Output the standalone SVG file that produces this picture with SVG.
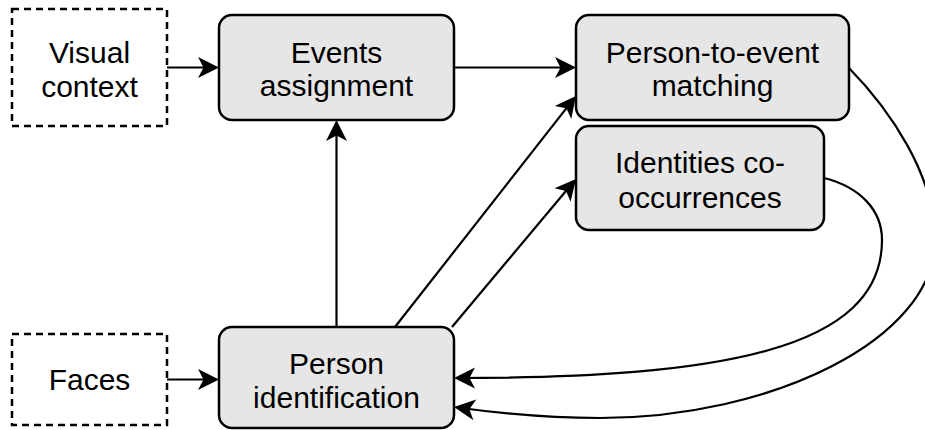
<svg xmlns="http://www.w3.org/2000/svg" width="925" height="430" viewBox="0 0 925 430">
  <style>
    .box { fill: #e6e6e6; stroke: #000; stroke-width: 2.5; }
    .input { fill: #fff; stroke: #000; stroke-width: 2.5; stroke-dasharray: 7 5; }
    .label { font-family: "Liberation Sans", Arial, sans-serif; font-size: 30px; fill: #000; text-anchor: middle; }
    .edge { fill: none; stroke: #000; stroke-width: 2.2; marker-end: url(#arrow); }
  </style>
  <defs>
    <marker id="arrow" markerUnits="userSpaceOnUse" markerWidth="30" markerHeight="26" viewBox="-22 -13 30 26" refX="0" refY="0" orient="auto" overflow="visible">
      <path d="M3,0 L-18,-10.5 L-12.5,0 L-18,10.5 Z" fill="#000"/>
    </marker>
  </defs>
  <rect width="925" height="430" fill="#fff"/>

  <g id="visual-context">
    <rect class="input" x="12" y="9" width="155" height="117"/>
    <text class="label" x="89.5" y="63">Visual</text>
    <text class="label" x="89.5" y="97">context</text>
  </g>

  <g id="faces">
    <rect class="input" x="12" y="334" width="155" height="91"/>
    <text class="label" x="89.5" y="390">Faces</text>
  </g>

  <g id="events-assignment">
    <rect class="box" x="219" y="15" width="235" height="105" rx="13" ry="13"/>
    <text class="label" x="336.5" y="63">Events</text>
    <text class="label" x="336.5" y="96">assignment</text>
  </g>

  <g id="person-to-event-matching">
    <rect class="box" x="576" y="15" width="273" height="105" rx="13" ry="13"/>
    <text class="label" x="712.5" y="63">Person-to-event</text>
    <text class="label" x="712.5" y="96">matching</text>
  </g>

  <g id="identities-co-occurrences">
    <rect class="box" x="576" y="126" width="248" height="104" rx="13" ry="13"/>
    <text class="label" x="700" y="173">Identities co-</text>
    <text class="label" x="700" y="208">occurrences</text>
  </g>

  <g id="person-identification">
    <rect class="box" x="219" y="327" width="235" height="101" rx="13" ry="13"/>
    <text class="label" x="336.5" y="374">Person</text>
    <text class="label" x="336.5" y="408">identification</text>
  </g>

  <g id="connectors">
    <path class="edge" d="M167,67.5 L216,67.5"/>
    <path class="edge" d="M454,67.5 L573,67.5"/>
    <path class="edge" d="M167,379.5 L216,379.5"/>
    <path class="edge" d="M336.5,327 L336.5,123"/>
    <path class="edge" d="M395,327 L574.1,98.4"/>
    <path class="edge" d="M452,327 L574.1,181.3"/>
    <path class="edge" d="M824,178 C860,187 882,210 882,240 C882,350 720,378 457,378"/>
    <path class="edge" d="M849,68 C890,110 935,175 935,240 C935,340 770,418 600,418 C540,418 490,412 457,407.5"/>
  </g>
</svg>
